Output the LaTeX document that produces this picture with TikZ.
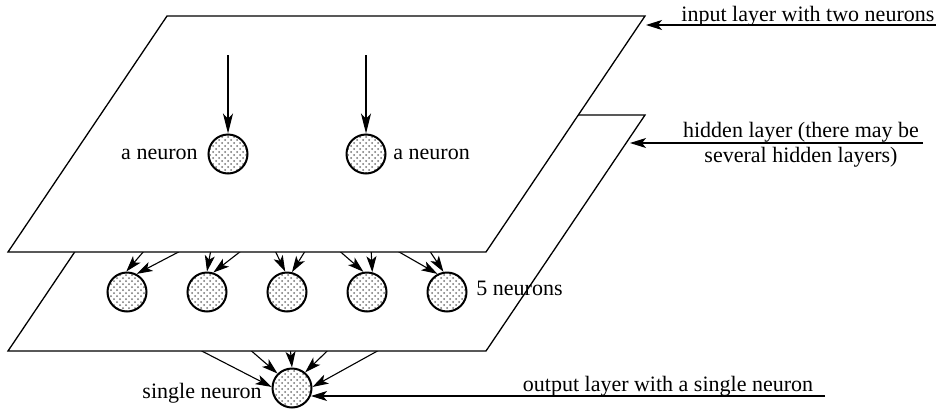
\documentclass[tikz,border=0pt]{standalone}
\usepackage{fontspec}
\setmainfont{Liberation Serif}
\usetikzlibrary{arrows.meta,patterns}
\pgfdeclarelayer{lA}
\pgfdeclarelayer{lB}
\pgfdeclarelayer{lC}
\pgfdeclarelayer{lD}
\pgfsetlayers{lA,lB,lC,lD,main}
\tikzset{
  neuron/.style={circle, draw, line width=1pt, minimum size=19.5pt, inner sep=0pt,
    fill=white, pattern=crosshatch dots, pattern color=black!55},
  plane/.style={draw, fill=white, line width=0.65pt, line join=miter},
  arr/.style={-{Stealth[length=8pt,width=5pt,inset=2pt]}, line width=0.55pt},
  bigarr/.style={-{Stealth[length=10pt,width=5pt,inset=2.6pt]}, line width=0.55pt},
  lbl/.style={inner sep=0pt, font=\fontsize{11}{13}\selectfont}
}
\begin{document}
\begin{tikzpicture}[x=0.5pt,y=-0.5pt]
\useasboundingbox (0,0) rectangle (936,413);

% neurons
\node[neuron] (in1) at (228,154) {};
\node[neuron] (in2) at (366,154) {};
\node[neuron] (h1) at (127,292) {};
\node[neuron] (h2) at (207,292) {};
\node[neuron] (h3) at (287,292) {};
\node[neuron] (h4) at (367,292) {};
\node[neuron] (h5) at (447,292) {};
\node[neuron] (out) at (292,388) {};

% hidden -> output arrows (under hidden plane)
\begin{pgfonlayer}{lA}
\draw[arr] (h1.south) -- (out.177);
\draw[arr] (h2.south) -- (out.135);
\draw[arr] (h3.south) -- (out.90);
\draw[arr] (h4.south) -- (out.50);
\draw[arr] (h5.south) -- (out.3);
\end{pgfonlayer}

% hidden plane
\begin{pgfonlayer}{lB}
\draw[plane] (167,115) -- (645,115) -- (486,351) -- (8,351) -- cycle;
\end{pgfonlayer}

% input -> hidden arrows (under input plane)
\begin{pgfonlayer}{lC}
\draw[arr] (in1.center) -- (h1.92);
\draw[arr] (in2.center) -- (h1.62);
\draw[arr] (in1.center) -- (h2.90);
\draw[arr] (in2.center) -- (h2.72);
\draw[arr] (in1.center) -- (h3.95);
\draw[arr] (in2.center) -- (h3.76);
\draw[arr] (in1.center) -- (h4.100);
\draw[arr] (in2.center) -- (h4.75);
\draw[arr] (in1.center) -- (h5.118);
\draw[arr] (in2.center) -- (h5.100);
\end{pgfonlayer}

% input plane
\begin{pgfonlayer}{lD}
\draw[plane] (167,16) -- (645,16) -- (486,252) -- (8,252) -- cycle;
\end{pgfonlayer}

% input arrows
\coordinate (s1) at (228,55);
\coordinate (s2) at (366,55);
\draw[bigarr] (s1) -- (in1.north);
\draw[bigarr] (s2) -- (in2.north);

% labels
\node[lbl, anchor=east] (l1) at (198,154) {a neuron};
\node[lbl, anchor=west] (l2) at (393,154) {a neuron};
\node[lbl, anchor=west] (l3) at (476,288) {5 neurons};
\node[lbl, anchor=base east] (l4) at (262,398) {single neuron};

\node[lbl, anchor=base west] (t1) at (681,21) {input layer with two neurons};
\node[lbl, anchor=base] (t2) at (801,137) {hidden layer (there may be};
\node[lbl, anchor=base] (t3) at (801,162) {several hidden layers)};
\node[lbl, anchor=base] (t4) at (668,391) {output layer with a single neuron};

% label arrows
\coordinate (a1) at (936,25);
\coordinate (b1) at (646,25);
\coordinate (a2) at (923,143);
\coordinate (b2) at (630,143);
\coordinate (a3) at (825,396);
\draw[arr] (a1) -- (b1);
\draw[arr] (a2) -- (b2);
\draw[arr] (a3) -- (a3 -| out.-22);
\end{tikzpicture}
\end{document}
